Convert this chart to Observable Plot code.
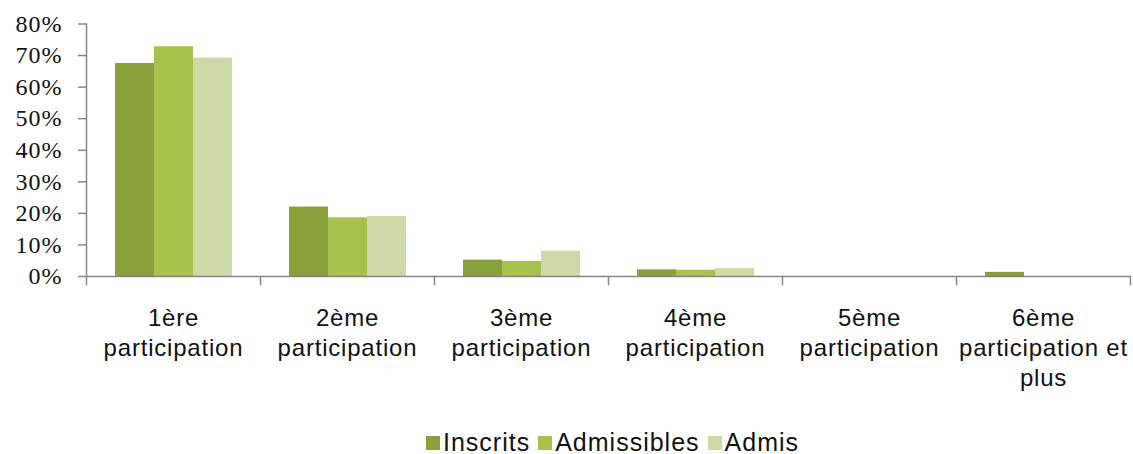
<!DOCTYPE html>
<html>
<head>
<meta charset="utf-8">
<script src="https://cdn.jsdelivr.net/npm/d3@7"></script>
<script src="https://cdn.jsdelivr.net/npm/@observablehq/plot@0.6"></script>
<style>
  html, body { margin: 0; padding: 0; background: #fff; }
  #chart svg { display: block; }
  #chart g[aria-label="text"] text { letter-spacing: 0.8px; }
  #chart g[aria-label="y-axis tick label"] text { letter-spacing: 1px; }
  #legend { display: flex; align-items: center; height: 19px; padding-top: 8px; margin-left: 426px;
    font-family: "Liberation Sans", Arial, sans-serif; font-size: 25px; letter-spacing: 1px; line-height: 19px; color: #111; }
  #legend .sw { width: 14px; height: 14px; margin-right: 3px; }
  #legend .lab { margin-right: 8px; }
</style>
</head>
<body>
<div id="chart"></div>
<div id="legend"></div>
<script>
const categories = ["1ère participation", "2ème participation", "3ème participation", "4ème participation", "5ème participation", "6ème participation et plus"];
const categoryLabels = ["1ère\nparticipation", "2ème\nparticipation", "3ème\nparticipation", "4ème\nparticipation", "5ème\nparticipation", "6ème\nparticipation et\nplus"];
const series = ["Inscrits", "Admissibles", "Admis"];
const colors = ["#89a03b", "#a6c24a", "#cddaa8"];
const inscrits = [0.675, 0.220, 0.052, 0.021, 0.000, 0.013];
const admissibles = [0.728, 0.186, 0.048, 0.020, 0.000, 0.000];
const admis = [0.692, 0.190, 0.080, 0.025, 0.000, 0.000];
const yTicks = [0, 0.1, 0.2, 0.3, 0.4, 0.5, 0.6, 0.7, 0.8];

const values = [inscrits, admissibles, admis];
const data = [];
categories.forEach((c, i) => series.forEach((s, j) => data.push({category: c, series: s, value: values[j][i]})));

const axisGray = "#868686";
const chart = Plot.plot({
  width: 1133,
  height: 425,
  marginLeft: 85,
  marginRight: 3,
  marginTop: 23.5,
  marginBottom: 149,
  style: {fontFamily: "'Liberation Sans', Arial, sans-serif", color: "#111", background: "#fff"},
  fx: {domain: categories, padding: 0, label: null, axis: null},
  x: {domain: series, paddingInner: 0, paddingOuter: 0.72, axis: null},
  y: {domain: [0, 0.8], label: null},
  color: {domain: series, range: colors},
  marks: [
    Plot.barY(data, {fx: "category", x: "series", y: "value", fill: "series", inset: 0}),
    Plot.ruleY([0], {stroke: axisGray, strokeWidth: 1.5}),
    Plot.frame({anchor: "left", facetAnchor: "left", stroke: axisGray, strokeWidth: 1.5}),
    Plot.frame({anchor: "left", insetTop: 252.5, insetBottom: -8, stroke: axisGray, strokeWidth: 1.5}),
    Plot.frame({anchor: "right", facetAnchor: "right", insetTop: 252.5, insetBottom: -8, stroke: axisGray, strokeWidth: 1.5}),
    Plot.axisY({ticks: yTicks, tickFormat: d3.format(".0%"), tickSize: 8, tickPadding: 16, stroke: axisGray, strokeWidth: 1.5,
      fill: "#111", fontSize: 24, fontFamily: "'Liberation Serif', 'Times New Roman', serif", label: null}),
    Plot.text(categories, {fx: d => d, text: d => categoryLabels[categories.indexOf(d)], frameAnchor: "bottom",
      lineAnchor: "top", dy: 28, lineHeight: 1.25, fontSize: 24, fill: "#111"})
  ]
});
document.getElementById("chart").appendChild(chart);

const legend = document.getElementById("legend");
series.forEach((s, j) => {
  const sw = document.createElement("div");
  sw.className = "sw";
  sw.style.background = colors[j];
  const lab = document.createElement("span");
  lab.className = "lab";
  lab.textContent = s;
  legend.appendChild(sw);
  legend.appendChild(lab);
});
</script>
</body>
</html>
